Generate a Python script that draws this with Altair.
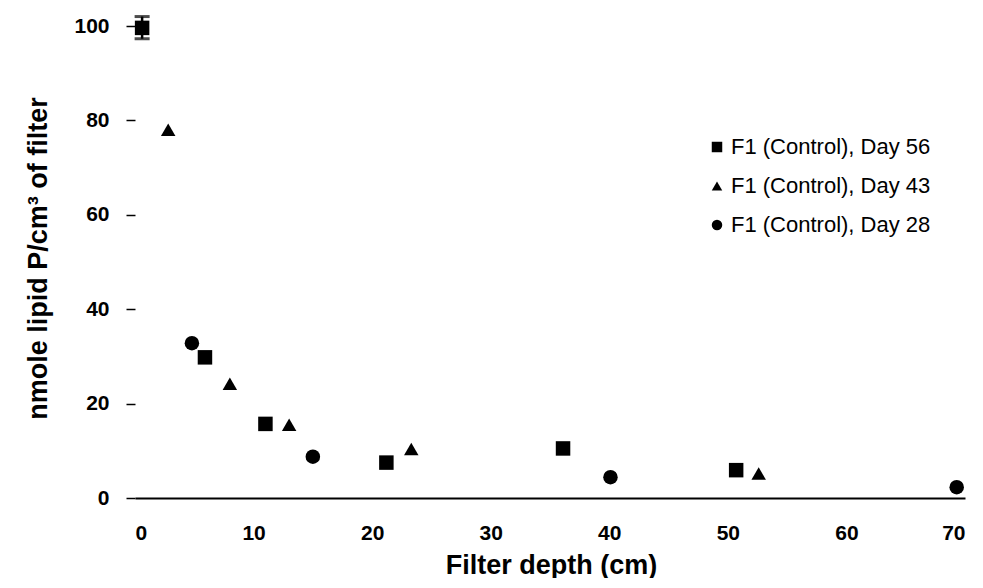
import altair as alt
import pandas as pd

# ---- data ----
series_names = ["F1 (Control), Day 56", "F1 (Control), Day 43", "F1 (Control), Day 28"]

day56_depth = [0.6, 5.9, 11.0, 21.2, 36.1, 50.7]
day56_lipid = [99.6, 29.8, 15.7, 7.5, 10.5, 5.9]

day43_depth = [2.8, 8.0, 13.0, 23.3, 52.6]
day43_lipid = [78.0, 24.2, 15.5, 10.4, 5.2]

day28_depth = [4.8, 15.0, 40.1, 69.3]
day28_lipid = [32.8, 8.75, 4.4, 2.3]

err_depth = [0.6]
err_low = [97.3]
err_high = [102.0]

x_ticks = [0, 10, 20, 30, 40, 50, 60, 70]
y_ticks = [0, 20, 40, 60, 80, 100]

# ---- tables ----
rows = []
for name, xs, ys in zip(series_names,
                        [day56_depth, day43_depth, day28_depth],
                        [day56_lipid, day43_lipid, day28_lipid]):
    for xv, yv in zip(xs, ys):
        rows.append({"series": name, "depth": xv, "lipid": yv})
df = pd.DataFrame(rows)

err_df = pd.DataFrame({"depth": err_depth, "lipid": err_low, "lipid2": err_high})
cap_df = pd.DataFrame({"depth": err_depth + err_depth, "lipid": err_low + err_high})

FONT = "Liberation Sans"

x_enc = alt.X(
    "depth:Q",
    scale=alt.Scale(domain=[0, 70], nice=False, zero=False),
    axis=alt.Axis(
        values=x_ticks, grid=False, domain=True, domainColor="black", domainWidth=2,
        ticks=False, tickSize=0, labelPadding=24, labelFont=FONT, labelFontSize=21,
        labelFontWeight="bold", labelColor="black",
        title="Filter depth (cm)", titleFont=FONT, titleFontSize=27, titleFontWeight="bold",
        titleColor="black", titleX=416, titleY=75, titleAlign="center",
        titleBaseline="alphabetic",
    ),
)
y_enc = alt.Y(
    "lipid:Q",
    scale=alt.Scale(domain=[0, 100], nice=False, zero=False),
    axis=alt.Axis(
        values=y_ticks, grid=False, domain=False, ticks=True, tickSize=9, tickWidth=1.5,
        tickColor="black", labelPadding=17, labelFont=FONT, labelFontSize=21,
        labelFontWeight="bold", labelColor="black",
        title="nmole lipid P/cm³ of filter", titleFont=FONT, titleFontSize=27,
        titleFontWeight="bold", titleColor="black", titleX=-89, titleY=232,
        titleAngle=270, titleAlign="center", titleBaseline="alphabetic",
    ),
)

points = alt.Chart(df).mark_point(filled=True, opacity=1, color="black", size=210).encode(
    x=x_enc,
    y=y_enc,
    shape=alt.Shape(
        "series:N",
        scale=alt.Scale(domain=series_names, range=["square", "triangle-up", "circle"]),
        legend=alt.Legend(
            title=None, orient="none", legendX=571, legendY=110, symbolSize=110,
            symbolFillColor="black", symbolStrokeColor="black", symbolOpacity=1,
            labelFont=FONT, labelFontSize=22, labelColor="black", labelOffset=3,
            labelLimit=400, rowPadding=17,
        ),
    ),
)

err_rule = alt.Chart(err_df).mark_rule(color="black", strokeWidth=2.5).encode(
    x=x_enc, y=y_enc, y2="lipid2:Q"
)
err_caps = alt.Chart(cap_df).mark_tick(color="black", orient="horizontal", size=15, thickness=3).encode(
    x=x_enc, y=y_enc
)

chart = alt.layer(err_rule, err_caps, points).properties(
    width=830, height=472,
    autosize=alt.AutoSizeParams(type="none"),
    padding={"left": 127, "top": 18, "right": 10, "bottom": 80},
    background="white",
).configure_view(stroke=None)

chart.save("out.html", embed_options={"renderer": "svg", "actions": False})
